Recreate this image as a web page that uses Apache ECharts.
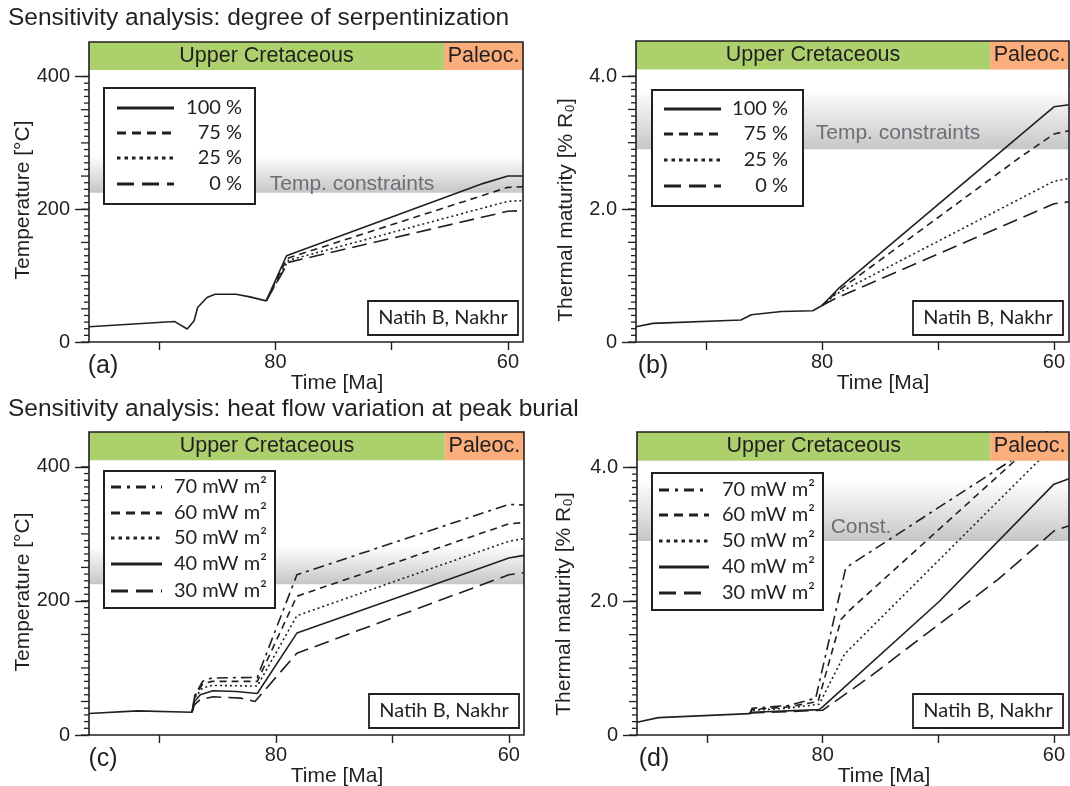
<!DOCTYPE html>
<html>
<head>
<meta charset="utf-8">
<title>Sensitivity analysis</title>
<script src="https://cdn.jsdelivr.net/npm/echarts@6/dist/echarts.min.js"></script>
<style>
  html, body { margin: 0; padding: 0; background: #fff; }
  #chart { width: 1070px; height: 786px; }
</style>
</head>
<body>
<div id="chart"></div>
<script>
// ---- data (time in Ma, temperature in °C, maturity in % Ro) ----
const X_TICKS = [90, 80, 70, 60];
const X_LABELS = [80, 60];
const TEMP_LABEL_TICKS = [0, 200, 400];
const MAT_LABEL_TICKS = [0, 2, 4];

const PERIODS = ['Upper Cretaceous', 'Paleoc.'];
const PERIOD_BOUNDARY = 65.5;

const TEMP_CONSTRAINT = [225, 282];
const MAT_CONSTRAINT = [2.9, 3.8];

const SERP_LEGEND = ['100 %', '75 %', '25 %', '0 %'];
const HEAT_LEGEND = ['70 mW m²', '60 mW m²', '50 mW m²', '40 mW m²', '30 mW m²'];

// (a) temperature, degree of serpentinization
const SERP_TEMP_COMMON = [[96.05, 23], [88.7, 31], [87.6, 19.5], [87.0, 32], [86.7, 52], [85.9, 67], [85.2, 72], [83.4, 72], [82.2, 68], [80.8, 62]];
const SERP_TEMP_100 = [[79.05, 130], [62.1, 239], [60.0, 250], [58.7, 250]];
const SERP_TEMP_75 = [[79.0, 126], [60.0, 233], [58.7, 234]];
const SERP_TEMP_25 = [[78.9, 123], [60.0, 212], [58.7, 213]];
const SERP_TEMP_0 = [[78.9, 120], [60.0, 197], [58.7, 198]];

// (b) maturity, degree of serpentinization
const SERP_MAT_COMMON = [[96.05, 0.23], [94.6, 0.28], [87.0, 0.33], [86.1, 0.41], [83.5, 0.46], [80.8, 0.47], [80.0, 0.55]];
const SERP_MAT_100 = [[78.5, 0.82], [60.0, 3.54], [58.7, 3.57]];
const SERP_MAT_75 = [[78.6, 0.77], [63.0, 2.77], [60.0, 3.13], [58.7, 3.18]];
const SERP_MAT_25 = [[78.8, 0.72], [60.0, 2.42], [58.7, 2.46]];
const SERP_MAT_0 = [[78.9, 0.65], [60.0, 2.08], [58.7, 2.11]];

// (c) temperature, heat flow at peak burial
const HEAT_TEMP_COMMON = [[96.05, 32], [91.9, 36], [87.2, 34]];
const HEAT_TEMP_70 = [[87.0, 58], [86.3, 80], [85.5, 85], [81.6, 86], [78.2, 239], [60.0, 344], [58.7, 343]];
const HEAT_TEMP_60 = [[87.0, 56], [86.3, 76], [85.5, 80], [81.6, 80], [78.2, 207], [60.0, 315], [58.7, 317]];
const HEAT_TEMP_50 = [[87.0, 55], [86.3, 70], [85.5, 74], [81.6, 73], [78.2, 178], [60.0, 289], [58.7, 293]];
const HEAT_TEMP_40 = [[87.0, 50], [86.5, 60], [85.4, 66], [83.4, 65], [81.6, 62], [78.2, 152], [67.6, 217], [60.0, 264], [58.7, 268]];
const HEAT_TEMP_30 = [[87.0, 45], [86.5, 53], [85.4, 57], [83.0, 55], [81.8, 50], [78.2, 122], [60.0, 239], [58.7, 242]];

// (d) maturity, heat flow at peak burial
const HEAT_MAT_COMMON = [[96.05, 0.19], [94.2, 0.26], [86.3, 0.32]];
const HEAT_MAT_70 = [[86.1, 0.40], [83.0, 0.44], [80.6, 0.55], [78.0, 2.50], [60.0, 4.52], [58.7, 4.66]];
const HEAT_MAT_60 = [[86.1, 0.38], [83.0, 0.42], [80.4, 0.50], [78.4, 1.73], [77.7, 1.86], [60.0, 4.63], [58.7, 4.83]];
const HEAT_MAT_50 = [[86.1, 0.37], [83.0, 0.40], [80.3, 0.46], [78.1, 1.21], [60.0, 4.33], [58.7, 4.56]];
const HEAT_MAT_40 = [[86.1, 0.34], [80.3, 0.38], [80.0, 0.42], [69.9, 2.0], [60.0, 3.75], [58.7, 3.83]];
const HEAT_MAT_30 = [[86.1, 0.33], [80.0, 0.37], [79.6, 0.42], [76.0, 0.86], [64.8, 2.33], [60.0, 3.05], [58.7, 3.13]];

// ---- styles & layout ----
const INK = '#231f20';
const GREEN = '#acd16c';
const ORANGE = '#f9ae7b';
const FONT = '"Liberation Sans", Arial, sans-serif';
const FONT2 = 'Lato, "Open Sans", sans-serif';
const X_MIN = 58.7, X_MAX = 96.05;

// dash patterns in the plots and in the legends
const DASH = {
  solid: { plot: 'solid', legend: null },
  dash: { plot: [7, 5], legend: [9, 6] },
  dot: { plot: [2, 3], legend: [3.5, 4] },
  long: { plot: [15, 7], legend: [17, 8] },
  dashdot: { plot: [11, 5, 3, 5], legend: [10, 6, 3, 6] }
};

const PANELS = [
  { grid: { left: 89, top: 42, width: 434, height: 300 }, kind: 'temp',
    common: SERP_TEMP_COMMON,
    curves: [[SERP_TEMP_100, 'solid'], [SERP_TEMP_75, 'dash'], [SERP_TEMP_25, 'dot'], [SERP_TEMP_0, 'long']],
    legend: { x: 104, y: 88, w: 151, h: 116, lx1: 117, lx2: 174, tx: 242, align: 'right', rows: [108, 133, 158, 184],
      names: SERP_LEGEND, dashes: ['solid', 'dash', 'dot', 'long'] },
    natih: { x: 368, y: 301 }, letter: ['(a)', 103, 366], time: [337, 383], yname: [23, 200],
    constText: ['Temp. constraints', 352, 184] },
  { grid: { left: 636, top: 41, width: 433, height: 301 }, kind: 'mat',
    common: SERP_MAT_COMMON,
    curves: [[SERP_MAT_100, 'solid'], [SERP_MAT_75, 'dash'], [SERP_MAT_25, 'dot'], [SERP_MAT_0, 'long']],
    legend: { x: 652, y: 90, w: 151, h: 116, lx1: 664, lx2: 721, tx: 788, align: 'right', rows: [109, 134, 160, 186],
      names: SERP_LEGEND, dashes: ['solid', 'dash', 'dot', 'long'] },
    natih: { x: 913, y: 301 }, letter: ['(b)', 653, 366], time: [883, 383], yname: [566, 210],
    constText: ['Temp. constraints', 898, 133] },
  { grid: { left: 89, top: 432, width: 435, height: 303 }, kind: 'temp',
    common: HEAT_TEMP_COMMON,
    curves: [[HEAT_TEMP_70, 'dashdot'], [HEAT_TEMP_60, 'dash'], [HEAT_TEMP_50, 'dot'], [HEAT_TEMP_40, 'solid'], [HEAT_TEMP_30, 'long']],
    legend: { x: 104, y: 471, w: 171, h: 137, lx1: 111, lx2: 162, tx: 174, align: 'left', rows: [487, 513, 538, 564, 591],
      names: HEAT_LEGEND, dashes: ['dashdot', 'dash', 'dot', 'solid', 'long'] },
    natih: { x: 369, y: 694 }, letter: ['(c)', 103, 759], time: [337, 776], yname: [23, 592],
    constText: null },
  { grid: { left: 637, top: 432, width: 432, height: 303 }, kind: 'mat',
    common: HEAT_MAT_COMMON,
    curves: [[HEAT_MAT_70, 'dashdot'], [HEAT_MAT_60, 'dash'], [HEAT_MAT_50, 'dot'], [HEAT_MAT_40, 'solid'], [HEAT_MAT_30, 'long']],
    legend: { x: 652, y: 473, w: 171, h: 137, lx1: 659, lx2: 709, tx: 722, align: 'left', rows: [490, 515, 541, 567, 593],
      names: HEAT_LEGEND, dashes: ['dashdot', 'dash', 'dot', 'solid', 'long'] },
    natih: { x: 913, y: 694 }, letter: ['(d)', 654, 759], time: [884, 776], yname: [564, 604],
    constText: ['Const.', 861, 527] }
];

const AXIS = {
  temp: { max: 452, barBottom: 410, labels: TEMP_LABEL_TICKS, mid: 50, minor: 10, top: 400,
    constraint: TEMP_CONSTRAINT, name: 'Temperature [°C]', fmt: (v) => String(v) },
  mat: { max: 4.53, barBottom: 4.1, labels: MAT_LABEL_TICKS, mid: 0.5, minor: 0.1, top: 4,
    constraint: MAT_CONSTRAINT, name: 'Thermal maturity [% R₀]', fmt: (v) => (v === 0 ? '0' : v.toFixed(1)) }
};

function stepTicks(step, top) {
  const out = [];
  const n = Math.round(top / step);
  for (let i = 0; i <= n; i++) out.push(+(i * step).toFixed(3));
  return out;
}

const chart = echarts.init(document.getElementById('chart'));

const grids = [], xAxes = [], yAxes = [], series = [], graphics = [];

PANELS.forEach((p, i) => {
  const ax = AXIS[p.kind];
  const g = p.grid;
  grids.push(Object.assign({ show: false }, g));

  xAxes.push({
    type: 'value', gridIndex: i, inverse: true, min: X_MIN, max: X_MAX, position: 'bottom',
    axisLine: { show: false }, splitLine: { show: false },
    axisTick: { show: true, customValues: X_TICKS, length: 8, lineStyle: { color: INK, width: 1.4 } },
    axisLabel: { customValues: X_LABELS, fontSize: 20, margin: 10, color: INK, fontFamily: FONT }
  });

  yAxes.push({
    type: 'value', gridIndex: i, min: 0, max: ax.max, position: 'left',
    axisLine: { show: false }, splitLine: { show: false },
    axisTick: { show: true, customValues: ax.labels, length: 14, lineStyle: { color: INK, width: 1.4 } },
    axisLabel: { customValues: ax.labels, fontSize: 20, margin: 19, color: INK, fontFamily: FONT, formatter: ax.fmt }
  });

  // grey constraint band (below the curves)
  series.push({
    type: 'line', xAxisIndex: i, yAxisIndex: i, data: [], z: 1, silent: true,
    markArea: {
      silent: true, z: 1,
      itemStyle: {
        color: new echarts.graphic.LinearGradient(0, 0, 0, 1, [
          { offset: 0, color: 'rgba(255,255,255,1)' },
          { offset: 0.45, color: '#e6e6e7' },
          { offset: 1, color: '#c5c6c8' }
        ])
      },
      data: [[{ xAxis: X_MAX, yAxis: ax.constraint[0] }, { xAxis: X_MIN, yAxis: ax.constraint[1] }]]
    }
  });

  // curves: shared early path, then one branch per scenario
  const last = p.common[p.common.length - 1];
  series.push({
    type: 'line', xAxisIndex: i, yAxisIndex: i, data: p.common, symbol: 'none', z: 3, silent: true,
    lineStyle: { color: INK, width: 1.6 }
  });
  p.curves.forEach(([tail, dash]) => {
    series.push({
      type: 'line', xAxisIndex: i, yAxisIndex: i, data: [last].concat(tail), symbol: 'none', z: 3, silent: true,
      lineStyle: { color: INK, width: 1.6, type: DASH[dash].plot }
    });
  });

  // stratigraphic bar on top (covers the curves)
  const barLabel = { show: true, position: 'inside', color: INK, fontSize: 21.5, fontFamily: FONT };
  series.push({
    type: 'line', xAxisIndex: i, yAxisIndex: i, data: [], z: 10, silent: true,
    markArea: {
      silent: true, z: 10, label: barLabel,
      data: [
        [{ name: PERIODS[0], xAxis: X_MAX, yAxis: ax.barBottom, itemStyle: { color: GREEN } }, { xAxis: PERIOD_BOUNDARY, yAxis: ax.max }],
        [{ name: PERIODS[1], xAxis: PERIOD_BOUNDARY, yAxis: ax.barBottom, itemStyle: { color: ORANGE } }, { xAxis: X_MIN, yAxis: ax.max }]
      ]
    }
  });

  // frame
  graphics.push({ type: 'rect', z: 100, silent: true, shape: { x: g.left, y: g.top, width: g.width, height: g.height },
    style: { fill: 'none', stroke: INK, lineWidth: 1.6 } });

  // legend box
  const L = p.legend;
  graphics.push({ type: 'rect', z: 50, silent: true, shape: { x: L.x, y: L.y, width: L.w, height: L.h },
    style: { fill: '#fff', stroke: INK, lineWidth: 2 } });
  L.names.forEach((name, k) => {
    const d = DASH[L.dashes[k]].legend;
    graphics.push({ type: 'line', z: 51, silent: true, shape: { x1: L.lx1, y1: L.rows[k], x2: L.lx2, y2: L.rows[k] },
      style: { stroke: INK, lineWidth: 2.8, lineDash: d } });
    graphics.push({ type: 'text', z: 51, silent: true, x: L.tx, y: L.rows[k],
      style: { text: name, fill: INK, fontSize: 20, fontFamily: FONT2, align: L.align, verticalAlign: 'middle',
        textAlign: L.align, textVerticalAlign: 'middle' } });
  });

  // location box
  graphics.push({ type: 'rect', z: 50, silent: true, shape: { x: p.natih.x, y: p.natih.y, width: 150, height: 34 },
    style: { fill: '#fff', stroke: INK, lineWidth: 1.8 } });
  graphics.push({ type: 'text', z: 51, silent: true, x: p.natih.x + 75, y: p.natih.y + 17,
    style: { text: 'Natih B, Nakhr', fill: INK, fontSize: 20, fontFamily: FONT2, align: 'center', verticalAlign: 'middle',
      textAlign: 'center', textVerticalAlign: 'middle' } });

  // constraint label
  if (p.constText) {
    graphics.push({ type: 'text', z: 4, silent: true, x: p.constText[1], y: p.constText[2],
      style: { text: p.constText[0], fill: '#6d6e71', fontSize: 21, fontFamily: FONT, align: 'center', verticalAlign: 'middle',
        textAlign: 'center', textVerticalAlign: 'middle' } });
  }

  // panel letter, x name, y name
  graphics.push({ type: 'text', silent: true, x: p.letter[1], y: p.letter[2],
    style: { text: p.letter[0], fill: INK, fontSize: 25, fontFamily: FONT, align: 'center', verticalAlign: 'middle',
      textAlign: 'center', textVerticalAlign: 'middle' } });
  graphics.push({ type: 'text', silent: true, x: p.time[0], y: p.time[1],
    style: { text: 'Time [Ma]', fill: INK, fontSize: 21, fontFamily: FONT, align: 'center', verticalAlign: 'middle',
      textAlign: 'center', textVerticalAlign: 'middle' } });
  graphics.push({ type: 'text', silent: true, x: p.yname[0], y: p.yname[1], rotation: Math.PI / 2,
    style: { text: ax.name, fill: INK, fontSize: 21, fontFamily: FONT, align: 'center', verticalAlign: 'middle',
      textAlign: 'center', textVerticalAlign: 'middle' } });
});

// section titles
graphics.push({ type: 'text', silent: true, x: 8, y: 18,
  style: { text: 'Sensitivity analysis: degree of serpentinization', fill: INK, fontSize: 24.5, fontFamily: FONT,
    align: 'left', verticalAlign: 'middle', textAlign: 'left', textVerticalAlign: 'middle' } });
graphics.push({ type: 'text', silent: true, x: 8, y: 409,
  style: { text: 'Sensitivity analysis: heat flow variation at peak burial', fill: INK, fontSize: 24.5, fontFamily: FONT,
    align: 'left', verticalAlign: 'middle', textAlign: 'left', textVerticalAlign: 'middle' } });

chart.setOption({
  backgroundColor: '#fff',
  animation: false,
  grid: grids,
  xAxis: xAxes,
  yAxis: yAxes,
  series: series,
  graphic: { elements: graphics }
});

// medium (8 px) and minor (5 px) y ticks, placed through each grid's y scale
try {
  const tickEls = [];
  PANELS.forEach((p, i) => {
    const ax = AXIS[p.kind];
    const midVals = stepTicks(ax.mid, ax.top);
    const minorVals = stepTicks(ax.minor, ax.top).filter((v) => !midVals.some((m) => Math.abs(m - v) < 1e-6));
    const add = (v, len) => {
      const pt = chart.convertToPixel({ gridIndex: i }, [X_MAX, v]);
      if (!pt) return;
      tickEls.push({ type: 'line', z: 60, silent: true,
        shape: { x1: pt[0] - len, y1: pt[1], x2: pt[0], y2: pt[1] },
        style: { stroke: INK, lineWidth: 1.3 } });
    };
    midVals.forEach((v) => add(v, 8));
    minorVals.forEach((v) => add(v, 5));
  });
  chart.setOption({ graphic: { elements: graphics.concat(tickEls) } });
} catch (e) {
  console.error(e);
}
</script>
</body>
</html>
